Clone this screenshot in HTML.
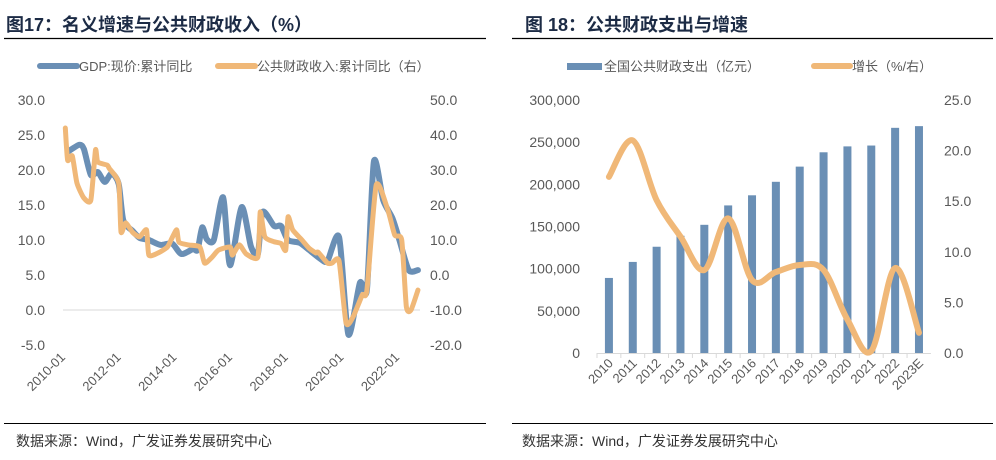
<!DOCTYPE html>
<html><head><meta charset="utf-8"><style>
html,body{margin:0;padding:0;background:#fff;width:996px;height:460px;overflow:hidden}
svg{display:block}
text{font-family:"Liberation Sans","Noto Sans CJK SC",sans-serif}
</style></head><body>
<svg id="s" width="996" height="460" viewBox="0 0 996 460">
<g>
<text x="6" y="31" font-size="18" font-weight="bold" fill="#1c2b45">图17：名义增速与公共财政收入（%）</text>
<line x1="4" y1="38.5" x2="486" y2="38.5" stroke="#000" stroke-width="1.2"/>
<g>
<line x1="40" y1="66" x2="77" y2="66" stroke="#6a8fb5" stroke-width="6" stroke-linecap="round"/>
<text x="79" y="71" font-size="13" fill="#595959">GDP:现价:累计同比</text>
<line x1="218" y1="66" x2="255" y2="66" stroke="#f0b878" stroke-width="6" stroke-linecap="round"/>
<text x="257" y="71" font-size="13" fill="#595959">公共财政收入:累计同比（右）</text>
</g>
<line x1="63" y1="310" x2="420" y2="310" stroke="#d9d9d9" stroke-width="1"/>
<g id="lAxes"></g>
<g id="lSeries"></g>
<line x1="4" y1="423.5" x2="486" y2="423.5" stroke="#000" stroke-width="1"/>
<text x="16" y="446" font-size="14" fill="#333">数据来源：Wind，广发证券发展研究中心</text>
</g>
<g>
<text x="525" y="31" font-size="18" font-weight="bold" fill="#1c2b45">图 18：公共财政支出与增速</text>
<line x1="512" y1="38.5" x2="993" y2="38.5" stroke="#000" stroke-width="1.2"/>
<g>
<rect x="567" y="63" width="35" height="7" fill="#6a8fb5"/>
<text x="604" y="71" font-size="13" fill="#595959">全国公共财政支出（亿元）</text>
<line x1="814" y1="66" x2="850" y2="66" stroke="#f0b878" stroke-width="6" stroke-linecap="round"/>
<text x="852" y="71" font-size="13" fill="#595959">增长（%/右）</text>
</g>
<g id="rAxes"></g>
<g id="rSeries"></g>
<line x1="512" y1="423.5" x2="993" y2="423.5" stroke="#000" stroke-width="1"/>
<text x="522" y="446" font-size="14" fill="#333">数据来源：Wind，广发证券发展研究中心</text>
</g>
</svg>
<script>
// ---- Left chart data (month index from 2010-01) ----
const gdpMonths = [2,7,9,12,15,18,21,24,26,30,33,37,42,47,51,56,58,60,62,65,69,72,77,81,84,86,91,94,97,102,106,111,114,119,123,128,131,134,138,142,145,149,153];
const gdpValues = [22.6,23.6,23,19.3,19.7,18.3,19.5,18,12.8,11.3,10.3,10,9.3,9.5,8,8.7,8.6,11.8,10.1,10,16.1,6.4,14.7,9.1,8,14,12,12,10,9.6,8.6,7.3,7,10.4,-3.5,3.9,2.9,21.2,15.7,13.1,10,5.7,5.7];
const revMonths = [1,2,4,6,9,12,14,15,19,20,24,25,27,30,33,36,37,41,45,47,49,50,54,59,61,64,67,72,73,76,79,84,85,87,91,94,96,97,99,103,106,109,110,114,116,119,122,125,129,131,135,140,143,146,148,150,153];
const revValues = [42,32.8,34,26.3,22,21.4,35.7,32.3,31.4,30.4,26.3,12.3,14.9,12.2,10.9,12.9,5.7,6.3,8,10.6,12.9,9.4,8.6,8,3.4,4.9,7.1,8,5.7,8.6,6,5.1,18,10.9,9.5,9,7.1,16.6,12.9,10,7.7,6.3,6.5,3.4,3.4,4,-13.7,-12,-5.7,-4.3,25.7,18.6,11.4,10,-9.1,-10,-4.3];
const leftTicks = ["30.0","25.0","20.0","15.0","10.0","5.0","0.0","-5.0"];
const rightTicks = ["50.0","40.0","30.0","20.0","10.0","0.0","-10.0","-20.0"];
const xTickLabels = ["2010-01","2012-01","2014-01","2016-01","2018-01","2020-01","2022-01"];
// ---- Right chart data ----
const years = ["2010","2011","2012","2013","2014","2015","2016","2017","2018","2019","2020","2021","2022","2023E"];
const spending = [89000,108000,126000,139000,152000,175000,187000,203000,221000,238000,245000,246000,267000,269000];
const growth = [17.4,21,15.1,11.5,8.2,13.3,7.2,8,8.7,8.2,3.3,0.2,8.4,2];
const spendTicks = ["300,000","250,000","200,000","150,000","100,000","50,000","0"];
const growthTicks = ["25.0","20.0","15.0","10.0","5.0","0.0"];

const NS="http://www.w3.org/2000/svg";
function mk(tag,attrs,parent){const e=document.createElementNS(NS,tag);for(const k in attrs)e.setAttribute(k,attrs[k]);parent.appendChild(e);return e;}
function smooth(pts,t){let d="M"+pts[0][0]+","+pts[0][1];for(let i=0;i<pts.length-1;i++){const p0=pts[i-1]||pts[i],p1=pts[i],p2=pts[i+1],p3=pts[i+2]||p2;d+=" C"+(p1[0]+(p2[0]-p0[0])/t)+","+(p1[1]+(p2[1]-p0[1])/t)+" "+(p2[0]-(p3[0]-p1[0])/t)+","+(p2[1]-(p3[1]-p1[1])/t)+" "+p2[0]+","+p2[1];}return d;}

// Left axes
const lx = m => 63 + m*2.32;
const ly = v => 310 - v*7;
const ry = v => 310 - (v+10)*3.5;
const lA=document.getElementById('lAxes');
leftTicks.forEach(t=>{const e=mk('text',{x:45,y:ly(parseFloat(t))+5,'font-size':14,fill:'#595959','text-anchor':'end'},lA);e.textContent=t;

});
rightTicks.forEach(t=>{const e=mk('text',{x:430,y:ry(parseFloat(t))+5,'font-size':14,fill:'#595959'},lA);e.textContent=t;

});
xTickLabels.forEach((t,i)=>{const x=lx(i*24)+3;const e=mk('text',{x:x,y:358,'font-size':13,fill:'#595959','text-anchor':'end',transform:'rotate(-45 '+x+' 358)'},lA);e.textContent=t;

});
const lS=document.getElementById('lSeries');
const g=mk('path',{d:smooth(gdpMonths.map((m,i)=>[lx(m),ly(gdpValues[i])]),8),fill:'none',stroke:'#6a8fb5','stroke-width':6,'stroke-linejoin':'round','stroke-linecap':'round'},lS);


const r=mk('path',{d:smooth(revMonths.map((m,i)=>[lx(m),ry(revValues[i])]),10),fill:'none',stroke:'#f0b878','stroke-width':5,'stroke-linejoin':'round','stroke-linecap':'round'},lS);



// Right axes
const x0=597, cw=23.85;
const bx = i => x0 + cw*(i+0.5);
const by = v => 353 - v/300000*253;
const gy = v => 353 - v/25*253;
const rA=document.getElementById('rAxes');
spendTicks.forEach(t=>{const e=mk('text',{x:580,y:by(parseFloat(t.replace(/,/g,'')))+5,'font-size':14,fill:'#595959','text-anchor':'end'},rA);e.textContent=t;

});
growthTicks.forEach(t=>{const e=mk('text',{x:944,y:gy(parseFloat(t))+5,'font-size':14,fill:'#595959'},rA);e.textContent=t;

});
const ax=mk('line',{x1:x0,y1:353.5,x2:x0+cw*years.length,y2:353.5,stroke:'#d9d9d9'},rA);


years.forEach((y,i)=>{const tx=x0+cw*i;mk('line',{x1:tx,y1:353,x2:tx,y2:358,stroke:'#d9d9d9'},rA);
const x=bx(i)+5;const e=mk('text',{x:x,y:364,'font-size':13,fill:'#595959','text-anchor':'end',transform:'rotate(-45 '+x+' 364)'},rA);e.textContent=y;

});
const rS=document.getElementById('rSeries');
spending.forEach((v,i)=>{const b=mk('rect',{x:bx(i)-4,y:by(v),width:8,height:353-by(v),fill:'#6a8fb5'},rS);

});
const gl=mk('path',{d:smooth(growth.map((v,i)=>[bx(i),gy(v)]),6),fill:'none',stroke:'#f0b878','stroke-width':6,'stroke-linecap':'round','stroke-linejoin':'round'},rS);


</script>
</body></html>
